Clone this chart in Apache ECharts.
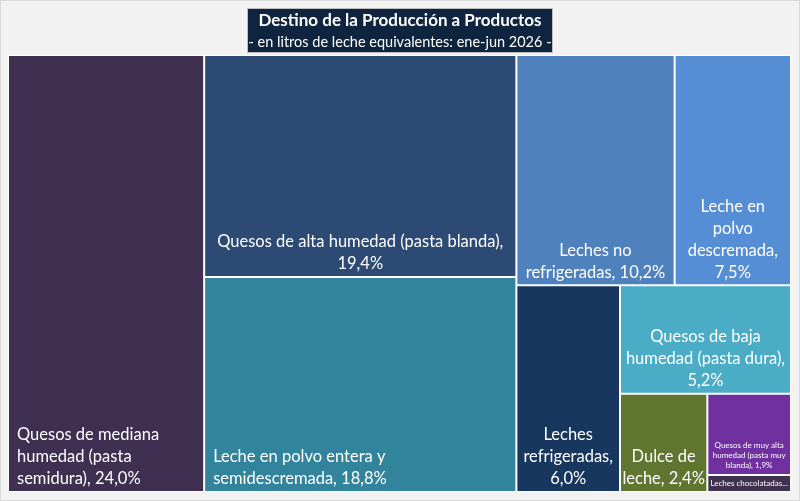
<!DOCTYPE html>
<html>
<head>
<meta charset="utf-8">
<script src="https://cdn.jsdelivr.net/npm/echarts@6/dist/echarts.min.js"></script>
<style>
  html, body { margin: 0; padding: 0; background: #fff; }
  #chart { width: 798px; height: 499px; border: 1px solid #D9D9D9; }
</style>
</head>
<body>
<div id="chart"></div>
<script>
// datos (% de litros de leche equivalentes)
var categorias = [
  'Quesos de mediana humedad (pasta semidura)',
  'Quesos de alta humedad (pasta blanda)',
  'Leche en polvo entera y semidescremada',
  'Leches no refrigeradas',
  'Leche en polvo descremada',
  'Leches refrigeradas',
  'Quesos de baja humedad (pasta dura)',
  'Dulce de leche',
  'Quesos de muy alta humedad (pasta muy blanda)',
  'Leches chocolatadas'
];
var valores = [24.0, 19.4, 18.8, 10.2, 7.5, 6.0, 5.2, 2.4, 1.9, 0.4];
// bloques del treemap (como los agrupa Excel)
var grupos = [0, 1, 1, 2, 2, 2, 2, 2, 2, 2];
// textos de las etiquetas, con los cortes de linea del original
var etiquetas = [
  'Quesos de mediana\nhumedad (pasta\nsemidura), 24,0%',
  'Quesos de alta humedad (pasta blanda),\n19,4%',
  'Leche en polvo entera y\nsemidescremada, 18,8%',
  'Leches no\nrefrigeradas, 10,2%',
  'Leche en\npolvo\ndescremada,\n7,5%',
  'Leches\nrefrigeradas,\n6,0%',
  'Quesos de baja\nhumedad (pasta dura),\n5,2%',
  'Dulce de\nleche, 2,4%',
  'Quesos de muy alta\nhumedad (pasta muy\nblanda), 1,9%',
  'Leches chocolatadas...'
];

var colores = ['#3F2F51', '#2C4A73', '#31849B', '#4F81BD', '#558ED5',
               '#17375E', '#4BACC6', '#5F7530', '#7030A0', '#403151'];

var chart = echarts.init(document.getElementById('chart'));

// estilo de etiqueta por celda
function estiloEtiqueta(i) {
  var base = {
    show: true,
    color: '#fff',
    fontFamily: 'Lato',
    fontSize: 16.5,
    lineHeight: 22,
    position: 'insideBottom',
    align: 'center',
    verticalAlign: 'bottom',
    overflow: 'none',
    padding: [0, 1, 1, 1],
    formatter: etiquetas[i]
  };
  if (i === 0 || i === 2) {
    base.position = 'insideBottomLeft';
    base.align = 'left';
    base.padding = [0, 2, 1, 8];
  }
  if (i === 8) {
    base.fontSize = 8; base.lineHeight = 10; base.padding = [0, 1, 4, 1];
  }
  if (i === 9) {
    base.fontSize = 8; base.lineHeight = 10;
    base.position = 'inside'; base.verticalAlign = 'middle'; base.padding = 0;
  }
  return base;
}

var arbol = [];
for (var i = 0; i < valores.length; i++) {
  var hoja = {
    name: categorias[i],
    value: valores[i],
    itemStyle: { color: colores[i], borderWidth: 1, borderColor: '#fff' },
    label: estiloEtiqueta(i)
  };
  var g = grupos[i];
  if (!arbol[g]) {
    arbol[g] = { name: 'g' + g, value: 0, children: [], itemStyle: { borderWidth: 0, gapWidth: 0 } };
  }
  arbol[g].children.push(hoja);
  arbol[g].value += valores[i];
}

var option = {
  backgroundColor: '#F2F2F2',
  animation: false,
  title: {
    text: 'Destino de la Producción a Productos',
    subtext: '- en litros de leche equivalentes: ene-jun 2026 -',
    left: 'center',
    top: 7,
    itemGap: 2,
    padding: [2, 1, 2, 1],
    backgroundColor: '#0F243E',
    borderColor: '#BFBFBF',
    borderWidth: 1,
    textStyle: { color: '#fff', fontFamily: 'Lato', fontWeight: 'bold', fontSize: 17, lineHeight: 21 },
    subtextStyle: { color: '#fff', fontFamily: 'Lato', fontSize: 14.5, lineHeight: 18 }
  },
  series: [{
    type: 'treemap',
    left: 7, top: 54, right: 8, bottom: 8,
    roam: false,
    nodeClick: false,
    sort: false,
    squareRatio: 1,
    breadcrumb: { show: false },
    itemStyle: { borderWidth: 0, gapWidth: 0 },
    upperLabel: { show: false },
    emphasis: { disabled: true },
    data: arbol
  }]
};

chart.setOption(option);
</script>
</body>
</html>
